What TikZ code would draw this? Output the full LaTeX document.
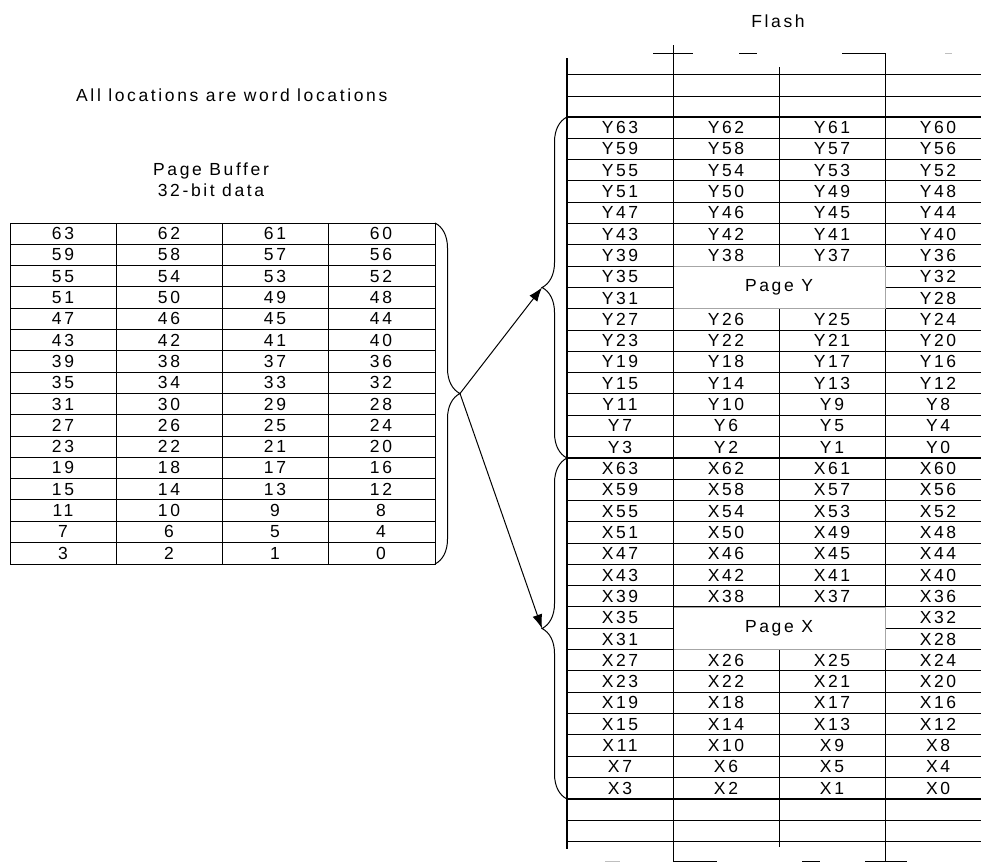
\documentclass[tikz,border=0pt]{standalone}
\usepackage{fontspec}
\setmainfont{Liberation Sans}[LetterSpace=15]
\usetikzlibrary{arrows.meta,decorations.pathreplacing}
\begin{document}
\begin{tikzpicture}[x=1pt,y=-1pt,
  every node/.style={font=\fontsize{17.5}{15.5}\selectfont, inner sep=0pt},
  cell/.style={anchor=center},
  gridline/.style={line width=1pt},
  heavyline/.style={line width=2pt},
  faint/.style={line width=1pt, draw=black!25},
  bracestyle/.style={decorate, decoration={brace, amplitude=25pt}, line width=1pt},
  arr/.style={-{Latex[length=14pt,width=10pt]}, line width=1pt},
  pagebox/.style={draw=black!35, line width=0.6pt, fill=white, minimum width=212pt, minimum height=42.6pt}]
\useasboundingbox (0,0) rectangle (981,863);

% headings
\node[anchor=base west] (note) at (76,101) {All locations are word locations};
\node[anchor=base] (pb1) at (211,175) {Page Buffer};
\node[anchor=base] (pb2) at (211,196) {32-bit data};
\node[anchor=base] (flash) at (778,27) {Flash};

% page buffer table
\draw[gridline] (10,223) rectangle (435,564);
\foreach \k in {1,...,15} \draw[gridline] (10,{223+21.3*\k}) -- (435,{223+21.3*\k});
\foreach \x in {116,222,328} \draw[gridline] (\x,223) -- (\x,564);
\foreach \r in {0,...,15} \foreach \c in {0,...,3} {
  \pgfmathtruncatemacro\v{63-4*\r-\c}
  \node[cell] (b-\r-\c) at ({63+106*\c},{223+21.3*\r+10.65}) {\v};
}

% flash table grid
\foreach \y in {74,96,820,841} \draw[gridline] (567,\y) -- (981,\y);
\foreach \k in {1,...,15,17,18,...,31} \draw[gridline] (567,{117+21.3*\k}) -- (981,{117+21.3*\k});
\foreach \k in {0,16,32} \draw[heavyline] (567,{117+21.3*\k}) -- (981,{117+21.3*\k});
\draw[gridline] (779,67) -- (779,847);
\draw[gridline] (885,53) -- (885,861);

% torn top and bottom edges
\draw[gridline] (653,53) -- (693,53);
\draw[gridline] (739,53) -- (757,53);
\draw[gridline] (842,53) -- (885,53);
\draw[faint] (945,53) -- (952,53);
\draw[faint] (605,861) -- (620,861);
\draw[gridline] (673,861) -- (717,861);
\draw[gridline] (802,861) -- (820,861);
\draw[gridline] (865,861) -- (907,861);

% flash cells
\foreach \r in {0,...,15} \foreach \c in {0,...,3} {
  \pgfmathtruncatemacro\v{63-4*\r-\c}
  \node[cell] (fy-\r-\c) at ({620+106*\c},{117+21.3*\r+10.65}) {Y\v};
  \node[cell] (fx-\r-\c) at ({620+106*\c},{458+21.3*\r+10.65}) {X\v};
}

% page labels
\node[pagebox] (pageY) at (779,287.3) {Page Y};
\node[pagebox] (pageX) at (779,628.3) {Page X};

\draw[gridline] (673,45) -- (673,861);
\draw[heavyline] (567,58) -- (567,849);

% braces
\coordinate (bufTop) at (435,223);
\coordinate (bufBot) at (435,564);
\coordinate (bufTip) at (460,393.5);
\coordinate (yTop) at (567,117);
\coordinate (yBot) at (567,458);
\coordinate (yTip) at (542,287.5);
\coordinate (xTop) at (567,458);
\coordinate (xBot) at (567,799);
\coordinate (xTip) at (542,628.5);
\draw[bracestyle] (bufTop) -- (bufBot);
\draw[bracestyle] (yBot) -- (yTop);
\draw[bracestyle] (xBot) -- (xTop);

% arrows
\draw[arr] (bufTip) -- (yTip);
\draw[arr] (bufTip) -- (xTip);
\end{tikzpicture}
\end{document}
